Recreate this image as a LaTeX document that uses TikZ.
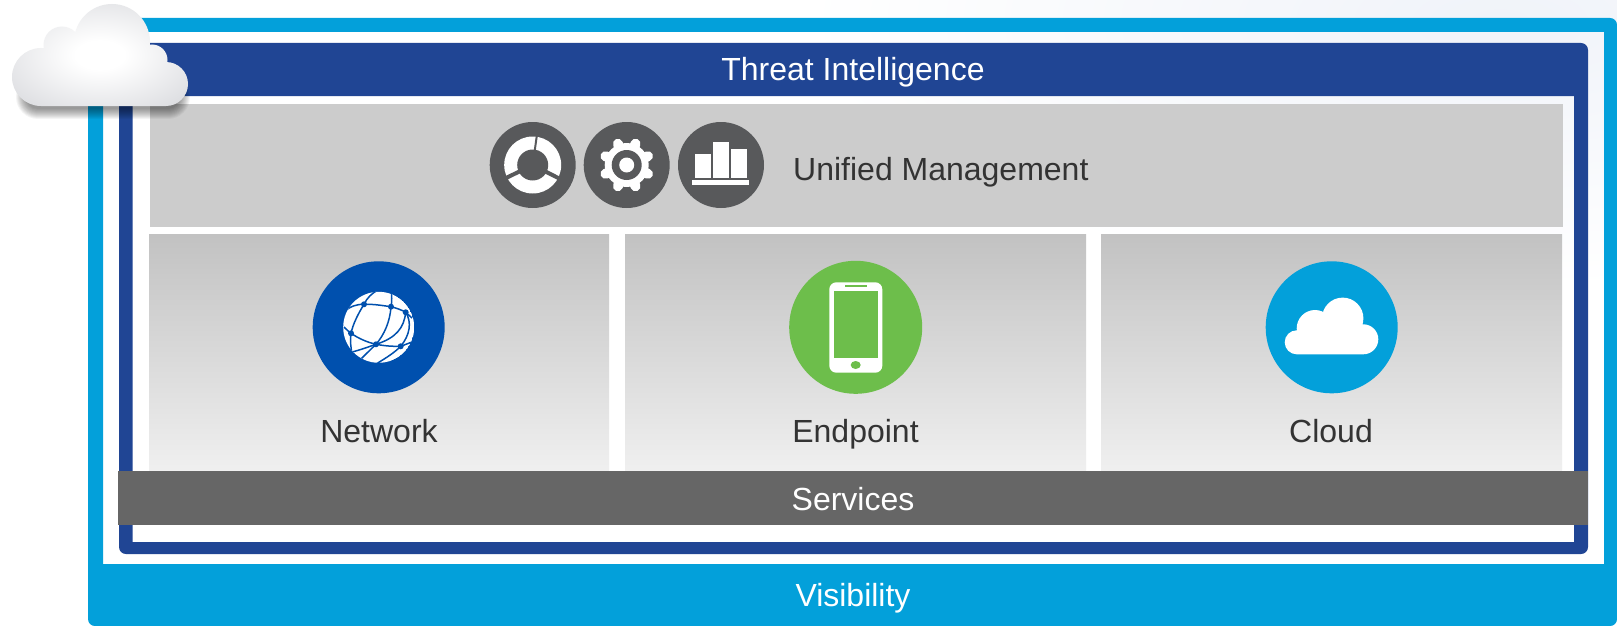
\documentclass[tikz,border=0pt]{standalone}
\usepackage{fontspec}
\setmainfont{Liberation Sans}
\definecolor{skyb}{HTML}{03A0DA}
\definecolor{navyb}{HTML}{204594}
\definecolor{topgray}{HTML}{CCCCCC}
\definecolor{svcgray}{HTML}{666666}
\definecolor{icongray}{HTML}{58595B}
\definecolor{netblue}{HTML}{0050AE}
\definecolor{phonegreen}{HTML}{6DBE4B}
\definecolor{txtgray}{HTML}{333333}
\definecolor{palebg}{HTML}{F0F3F9}
\definecolor{cloudmid}{HTML}{D8D9DD}
\definecolor{cloudedge}{HTML}{CCCDD2}
\colorlet{panelT}{black!24}
\colorlet{panelB}{black!6}
\pgfdeclareradialshading{cloudshade}{\pgfpoint{0bp}{0bp}}{
  color(0bp)=(white); color(7bp)=(white); color(36bp)=(cloudmid); color(48bp)=(cloudedge); color(75bp)=(cloudedge)}
\tikzset{
  lbl/.style={font=\fontsize{32}{36}\selectfont,inner sep=0pt,anchor=base},
  whitelbl/.style={lbl,text=white},
  darklbl/.style={lbl,text=txtgray},
  panel/.style={top color=panelT,bottom color=panelB,draw=none},
  netline/.style={draw=netblue,line width=1.5pt},
}
\newcommand{\bigcloudpath}{
  (166,84) circle[radius=22]
  (152,60) circle[radius=15.5]
  (112,42) circle[radius=38]
  (62,45) circle[radius=18.5]
  (41,77) circle[radius=29]
  (41,106) rectangle (166,60)
  (60,70) rectangle (110,35)
}
\begin{document}
\begin{tikzpicture}[x=1pt,y=-1pt]
\useasboundingbox (0,0) rectangle (1617,626);
\fill[white] (0,0) rectangle (1617,626);
% pale background wash, top right
\shade[inner color=palebg,outer color=white] (1500,20) ellipse[x radius=700,y radius=270];
% Visibility frame
\path[fill=skyb,even odd rule,rounded corners=7pt]
  (88,18) rectangle (1617,626)
  [sharp corners] (103,32) rectangle (1604,564);
% Threat Intelligence frame
\path[fill=navyb,even odd rule,rounded corners=7pt]
  (119,43) rectangle (1588,554)
  [sharp corners] (132.5,96) rectangle (1574,542);
% gray areas
\fill[topgray] (150,104) rectangle (1563,227);
\fill[panel] (149,234) rectangle (609,471);
\fill[panel] (625,234) rectangle (1086,471);
\fill[panel] (1101,234) rectangle (1562,471);
\fill[svcgray] (118,471) rectangle (1588,525);
% big cloud
\foreach \w in {24,26,28,30,32,34,36,38,40,42,44}{
  \draw[black,opacity=.045,line width=\w pt,line cap=round] (38,97) -- (168,97);
}
\shade[shading=cloudshade] \bigcloudpath;
% texts
\node[whitelbl] (threat) at (853,80.3) {Threat Intelligence};
\node[darklbl,anchor=base west] (mgmt) at (793,180.3) {Unified Management};
\node[darklbl] (network) at (379,442.5) {Network};
\node[darklbl] (endpoint) at (855.5,442.5) {Endpoint};
\node[darklbl] (cloud) at (1331,442.5) {Cloud};
\node[whitelbl] (services) at (853,510.5) {Services};
\node[whitelbl] (visibility) at (853,606.2) {Visibility};
% icon: donut
\fill[icongray] (532.7,165) circle[radius=43];
\fill[white] (532.7,165) circle[radius=28.5];
\foreach \a/\w in {-82/2,154/4,27/4}{
  \draw[icongray,line width=\w pt] (532.7,165) -- ++(\a:30);
}
\fill[icongray] (532.7,165) circle[radius=15.5];
% icon: gear
\fill[icongray] (626.7,165) circle[radius=43];
\begin{scope}[shift={(626.7,165)}]
  \fill[white] (0,0) circle[radius=22];
  \foreach \a in {22.5,67.5,...,337.5}{
    \draw[white,line width=10pt,line cap=round] (\a:18) -- (\a:23);
  }
  \fill[icongray] (0,0) circle[radius=15];
  \fill[white] (0,0) circle[radius=7.5];
\end{scope}
% icon: bars
\fill[icongray] (721,165) circle[radius=43];
\fill[white] (695,154) rectangle (711,177.5);
\fill[white] (713,141.7) rectangle (729,177.5);
\fill[white] (731,149) rectangle (747,177.5);
\fill[white] (692,180) rectangle (749,185);
% icon: network globe
\fill[netblue] (378.7,327.3) circle[radius=66];
\begin{scope}
  \clip (378.7,327.3) circle[radius=35.5];
  \fill[white] (378.7,327.3) circle[radius=35.5];
  \draw[netline] (344,312) .. controls (350,306) and (358,304) .. (364,304.3)
     .. controls (375,304) and (385,306) .. (391,306.7)
     .. controls (396,308) and (402,310) .. (405.7,312.3) -- (412,318);
  \draw[netline] (344,327) .. controls (346,329) and (348,331) .. (351,333.3)
     .. controls (358,338) and (366,342) .. (376,344.3)
     .. controls (385,346) and (393,346.5) .. (400.7,346.3) -- (412,342);
  \draw[netline] (378,290) .. controls (372,293) and (367,298) .. (364,304.3)
     .. controls (358,314) and (353,324) .. (351,333.3)
     .. controls (350,342) and (351,348) .. (352,354);
  \draw[netline] (391,290) .. controls (392,296) and (392,302) .. (391,306.7)
     .. controls (390,322) and (384,335) .. (376,344.3)
     .. controls (370,350) and (364,356) .. (358,362);
  \draw[netline] (405.7,312.3) .. controls (404,328) and (396,338) .. (376,344.3)
     .. controls (368,347) and (360,350) .. (352,352);
  \draw[netline] (405.7,312.3) .. controls (412,322) and (410,335) .. (400.7,346.3)
     .. controls (394,353) and (386,358) .. (376,364);
  \foreach \p in {(364,304.3),(391,306.7),(405.7,312.3),(351,333.3),(376,344.3),(400.7,346.3)}{
    \fill[netblue] \p circle[radius=3];
  }
\end{scope}
% icon: phone
\fill[phonegreen] (855.7,327.3) circle[radius=66.5];
\fill[white,rounded corners=7pt] (829.3,282.3) rectangle (882.3,372.7);
\fill[phonegreen] (833.7,290.7) rectangle (878.3,357.7);
\fill[phonegreen] (844.7,284.7) rectangle (867,287);
\fill[phonegreen] (855.7,365) ellipse[x radius=5,y radius=4];
% icon: cloud
\fill[skyb] (1331.7,327.3) circle[radius=66];
\fill[white]
  (1296.7,342.3) circle[radius=12]
  (1315,328.3) circle[radius=18.3]
  (1342.7,318.3) circle[radius=20.7]
  (1363.3,339.3) circle[radius=15]
  (1297,354.3) rectangle (1363,330);
\end{tikzpicture}
\end{document}
